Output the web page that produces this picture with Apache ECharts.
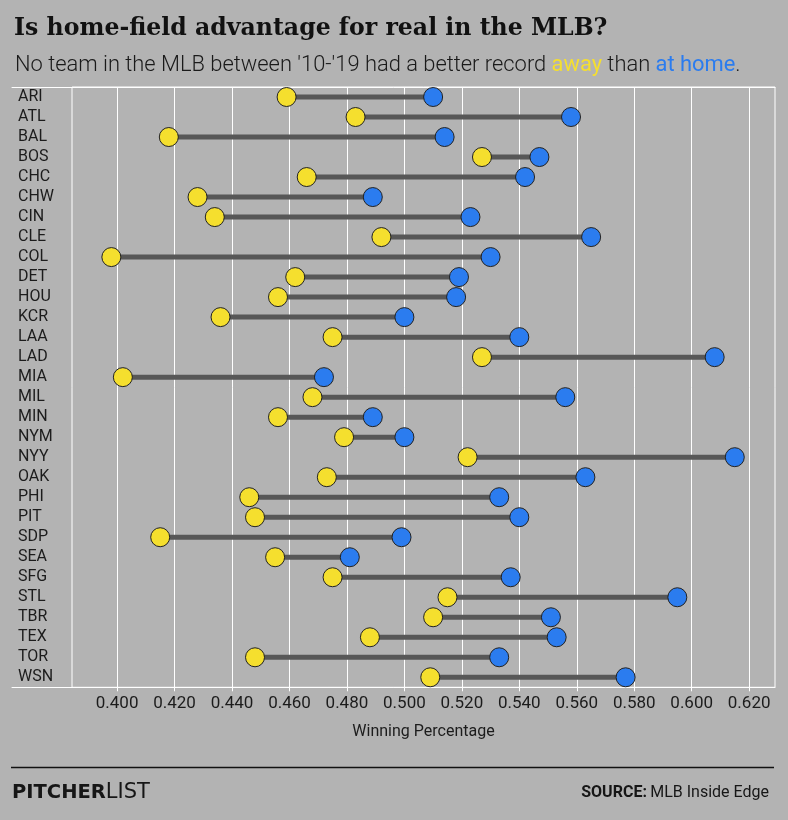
<!DOCTYPE html>
<html>
<head>
<meta charset="utf-8">
<script src="https://cdn.jsdelivr.net/npm/echarts@6/dist/echarts.min.js"></script>
<style>
  html, body { margin: 0; padding: 0; background: #b3b3b3; }
  #chart { width: 788px; height: 820px; }
</style>
</head>
<body>
<div id="chart"></div>
<script>
const teams = ['ARI','ATL','BAL','BOS','CHC','CHW','CIN','CLE','COL','DET','HOU','KCR','LAA','LAD','MIA','MIL','MIN','NYM','NYY','OAK','PHI','PIT','SDP','SEA','SFG','STL','TBR','TEX','TOR','WSN'];
const awayPct = [0.459,0.483,0.418,0.527,0.466,0.428,0.434,0.492,0.398,0.462,0.456,0.436,0.475,0.527,0.402,0.468,0.456,0.479,0.522,0.473,0.446,0.448,0.415,0.455,0.475,0.515,0.510,0.488,0.448,0.509];
const homePct = [0.510,0.558,0.514,0.547,0.542,0.489,0.523,0.565,0.530,0.519,0.518,0.500,0.540,0.608,0.472,0.556,0.489,0.500,0.615,0.563,0.533,0.540,0.499,0.481,0.537,0.595,0.551,0.553,0.533,0.577];
const xTicks = [0.40,0.42,0.44,0.46,0.48,0.50,0.52,0.54,0.56,0.58,0.60,0.62];
const xMin = 0.3843, xMax = 0.629;

const YELLOW = '#f5df2e', BLUE = '#2b7cef', INK = '#1c1c1c';
const chart = echarts.init(document.getElementById('chart'), null, {renderer: 'canvas'});

const option = {
  backgroundColor: '#b3b3b3',
  animation: false,
  title: [
    {
      text: 'Is home-field advantage for real in the MLB?',
      left: 14, top: 16, padding: 0,
      textStyle: {fontFamily: "'DejaVu Serif', serif", fontWeight: 'bold', fontSize: 23.6, lineHeight: 26, color: '#111'}
    },
    {
      text: "No team in the MLB between '10-'19 had a better record {a|away} than {h|at home}.",
      left: 15, top: 55, padding: 0,
      textStyle: {
        fontFamily: 'Roboto', fontWeight: 300, fontSize: 21.9, lineHeight: 22, color: '#1a1a1a',
        rich: {
          a: {fontFamily: 'Roboto', fontWeight: 400, fontSize: 21.9, lineHeight: 22, color: YELLOW},
          h: {fontFamily: 'Roboto', fontWeight: 400, fontSize: 21.9, lineHeight: 22, color: BLUE}
        }
      }
    }
  ],
  grid: [
    {left: 72, right: 13, top: 87, bottom: 132.7, show: true, borderColor: '#ffffff', borderWidth: 1, backgroundColor: 'transparent'},
    {left: 12, right: 13, top: 87, bottom: 132.7, show: false}
  ],
  xAxis: [
    {
      type: 'value', gridIndex: 0, min: xMin, max: xMax,
      name: 'Winning Percentage', nameLocation: 'middle', nameGap: 37,
      nameTextStyle: {fontFamily: 'Roboto', fontSize: 16, color: INK},
      axisLine: {show: false},
      axisTick: {show: true, length: 4, customValues: xTicks, lineStyle: {color: '#ffffff', width: 1}},
      axisLabel: {customValues: xTicks, margin: 8, fontFamily: 'Roboto', fontSize: 17, color: INK,
                  formatter: v => v.toFixed(3)},
      splitLine: {show: true, lineStyle: {color: '#ffffff', width: 1}}
    },
    {
      type: 'value', gridIndex: 1, position: 'bottom',
      axisLine: {show: true, onZero: false, lineStyle: {color: '#ffffff', width: 1}},
      axisTick: {show: false}, axisLabel: {show: false}, splitLine: {show: false}
    },
    {
      type: 'value', gridIndex: 1, position: 'top',
      axisLine: {show: true, onZero: false, lineStyle: {color: '#ffffff', width: 1}},
      axisTick: {show: false}, axisLabel: {show: false}, splitLine: {show: false}
    }
  ],
  yAxis: [
    {
      type: 'category', gridIndex: 0, data: teams, inverse: true,
      axisLine: {show: false}, axisTick: {show: false}, splitLine: {show: false},
      axisLabel: {interval: 0, align: 'left', margin: 54, fontFamily: 'Roboto', fontSize: 16, color: INK}
    },
    {type: 'value', gridIndex: 1, show: false}
  ],
  series: [
    {
      type: 'custom', xAxisIndex: 0, yAxisIndex: 0, z: 1,
      data: teams.map((t, i) => [i, awayPct[i], homePct[i]]),
      encode: {x: [1, 2], y: 0},
      renderItem: function (params, api) {
        const idx = api.value(0);
        const p1 = api.coord([api.value(1), idx]);
        const p2 = api.coord([api.value(2), idx]);
        return {type: 'line', shape: {x1: p1[0], y1: p1[1], x2: p2[0], y2: p2[1]},
                style: {stroke: '#575757', lineWidth: 5}};
      }
    },
    {
      name: 'Away', type: 'scatter', xAxisIndex: 0, yAxisIndex: 0, z: 3,
      symbolSize: 19,
      data: awayPct.map((v, i) => [v, teams[i]]),
      itemStyle: {color: YELLOW, borderColor: '#222', borderWidth: 1, opacity: 1}
    },
    {
      name: 'Home', type: 'scatter', xAxisIndex: 0, yAxisIndex: 0, z: 3,
      symbolSize: 19,
      data: homePct.map((v, i) => [v, teams[i]]),
      itemStyle: {color: BLUE, borderColor: '#222', borderWidth: 1, opacity: 1}
    }
  ],
  graphic: [
    {type: 'line', shape: {x1: 11, y1: 767.5, x2: 774, y2: 767.5}, style: {stroke: '#111', lineWidth: 1.5}},
    {type: 'text', style: {x: 12, y: 793, verticalAlign: 'middle', align: 'left',
      text: '{b|PITCHER}{l|LIST}',
      rich: {
        b: {fontFamily: "'DejaVu Sans'", fontWeight: 'bold', fontSize: 19.5, fill: '#161616'},
        l: {fontFamily: "'DejaVu Sans'", fontWeight: 'normal', fontSize: 21, fill: '#161616'}
      }}},
    {type: 'text', style: {x: 769, y: 793, verticalAlign: 'middle', align: 'right',
      text: '{b|SOURCE:} {n|MLB Inside Edge}',
      rich: {
        b: {fontFamily: 'Roboto', fontWeight: 'bold', fontSize: 16, fill: '#161616'},
        n: {fontFamily: 'Roboto', fontWeight: 'normal', fontSize: 16, fill: '#161616'}
      }}}
  ]
};
chart.setOption(option);
</script>
</body>
</html>
